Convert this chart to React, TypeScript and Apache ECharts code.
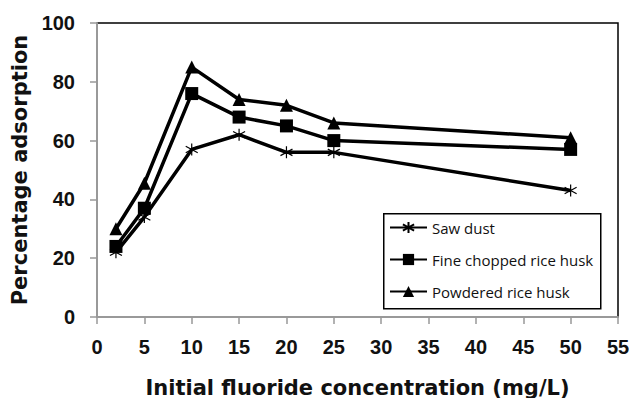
import React, { useEffect, useRef } from "react";
import * as echarts from "echarts";

// Initial fluoride concentration (mg/L)
const concentration = [2, 5, 10, 15, 20, 25, 50];

// Percentage adsorption for each adsorbent
const sawDust = [22, 34, 57, 62, 56, 56, 43];
const fineChoppedRiceHusk = [24, 37, 76, 68, 65, 60, 57];
const powderedRiceHusk = [30, 45.5, 85, 74, 72, 66, 61];

const seriesNames = ["Saw dust", "Fine chopped rice husk", "Powdered rice husk"];

const xTicks = { min: 0, max: 55, interval: 5 };
const yTicks = { min: 0, max: 100, interval: 20 };

const ASTERISK = "path://M5,0 L5,10 M0.8,2.3 L9.2,7.7 M0.8,7.7 L9.2,2.3";

const toPairs = (ys: number[]) => concentration.map((x, i) => [x, ys[i]]);

export default function App() {
  const ref = useRef<HTMLDivElement>(null);

  useEffect(() => {
    if (!ref.current) return;
    const chart = echarts.init(ref.current, undefined, { renderer: "svg" });

    const tickFont = {
      fontFamily: "Liberation Sans",
      fontWeight: "bold" as const,
      fontSize: 20,
      color: "#111",
    };
    const nameFont = {
      fontFamily: "DejaVu Sans",
      fontWeight: "bold" as const,
      fontSize: 21,
      color: "#111",
    };
    const lineStyle = { color: "#000", width: 3.5 };

    chart.setOption({
      animation: false,
      backgroundColor: "#fff",
      grid: {
        left: 97,
        top: 23,
        right: 12,
        bottom: 81,
        outerBoundsMode: "none",
        containLabel: false,
        show: true,
        borderColor: "#000",
        borderWidth: 1.5,
        backgroundColor: "transparent",
      },
      xAxis: {
        type: "value",
        min: xTicks.min,
        max: xTicks.max,
        interval: xTicks.interval,
        name: "Initial fluoride concentration (mg/L)",
        nameLocation: "middle",
        nameGap: 60,
        nameTextStyle: nameFont,
        axisLine: { show: true, onZero: false, lineStyle: { color: "#999", width: 2 } },
        axisTick: { show: true, length: 7, lineStyle: { color: "#999", width: 1.5 } },
        axisLabel: { ...tickFont, margin: 20 },
        splitLine: { show: false },
      },
      yAxis: {
        type: "value",
        min: yTicks.min,
        max: yTicks.max,
        interval: yTicks.interval,
        name: "Percentage adsorption",
        nameLocation: "middle",
        nameGap: 62,
        nameTextStyle: nameFont,
        axisLine: { show: true, lineStyle: { color: "#999", width: 2 } },
        axisTick: { show: true, length: 7, lineStyle: { color: "#999", width: 1.5 } },
        axisLabel: { ...tickFont, margin: 22 },
        splitLine: { show: false },
      },
      legend: {
        orient: "vertical",
        left: 389,
        top: 220,
        itemWidth: 37,
        itemHeight: 14,
        itemGap: 17,
        padding: 0,
        data: seriesNames,
        textStyle: { fontFamily: "Open Sans", fontSize: 15, color: "#111" },
      },
      graphic: [
        {
          type: "rect",
          left: 383,
          top: 213,
          shape: { width: 217, height: 95 },
          style: { fill: "transparent", stroke: "#000", lineWidth: 1.5 },
          z: 0,
        },
      ],
      series: [
        {
          name: seriesNames[0],
          type: "line",
          data: toPairs(sawDust),
          symbol: ASTERISK,
          symbolSize: 12,
          lineStyle,
          itemStyle: { color: "#000", borderColor: "#000", borderWidth: 1.2 },
          z: 2,
        },
        {
          name: seriesNames[1],
          type: "line",
          data: toPairs(fineChoppedRiceHusk),
          symbol: "rect",
          symbolSize: 13,
          lineStyle,
          itemStyle: { color: "#000", borderWidth: 0 },
          z: 3,
        },
        {
          name: seriesNames[2],
          type: "line",
          data: toPairs(powderedRiceHusk),
          symbol: "triangle",
          symbolSize: [13, 13],
          lineStyle,
          itemStyle: { color: "#000", borderWidth: 0 },
          z: 4,
        },
      ],
    });

    return () => chart.dispose();
  }, []);

  return (
    <div
      ref={ref}
      style={{ position: "fixed", left: 0, top: 0, width: 630, height: 398 }}
    />
  );
}
